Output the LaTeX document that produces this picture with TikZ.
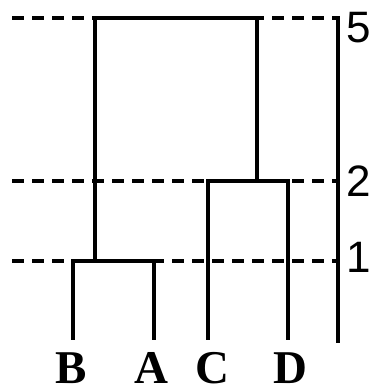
\documentclass[tikz,border=0pt]{standalone}
\usepackage{fontspec}
\newfontfamily\digitfont{Liberation Sans}
\newfontfamily\leaffont{Liberation Serif}
\begin{document}
\begin{tikzpicture}[x=1pt,y=1pt,
  tree/.style={line width=3.2pt,line join=miter},
  level/.style={line width=3.2pt,dash pattern=on 12pt off 8pt},
  axisline/.style={line width=3.2pt},
  leaflabel/.style={anchor=base,inner sep=0pt,font=\leaffont\bfseries\fontsize{47}{47}\selectfont},
  levellabel/.style={anchor=base,inner sep=0pt,font=\digitfont\fontsize{44}{44}\selectfont}]
\useasboundingbox (0,0) rectangle (371,391);
% level lines
\coordinate (l5) at (12,373); \coordinate (r5) at (338,373);
\coordinate (l2) at (12,210); \coordinate (r2) at (338,210);
\coordinate (l1) at (12,130); \coordinate (r1) at (338,130);
\draw[level] (l5) -- (r5);
\draw[level] (l2) -- (r2);
\draw[level] (l1) -- (r1);
% axis
\coordinate (axtop) at (338,374.6); \coordinate (axbot) at (338,48);
\draw[axisline] (axtop) -- (axbot);
% leaves and junctions
\coordinate (B) at (73,51);
\coordinate (A) at (154,51);
\coordinate (C) at (208,51);
\coordinate (D) at (288,51);
\coordinate (BAj) at (95,130);
\coordinate (CDj) at (257,210);
\coordinate (root) at (176,373);
\draw[tree] (B) |- (BAj) -| (A);
\draw[tree] (C) |- (CDj) -| (D);
\draw[tree] (BAj) |- (root) -| (CDj);
% leaf labels
\node[leaflabel] (lB) at (71,7) {B};
\node[leaflabel] (lA) at (151,7) {A};
\node[leaflabel] (lC) at (212,7) {C};
\node[leaflabel] (lD) at (290,7) {D};
% level labels
\node[levellabel] (n5) at (359,348) {5};
\node[levellabel] (n2) at (359,194) {2};
\node[levellabel] (n1) at (359,118) {1};
\end{tikzpicture}
\end{document}
